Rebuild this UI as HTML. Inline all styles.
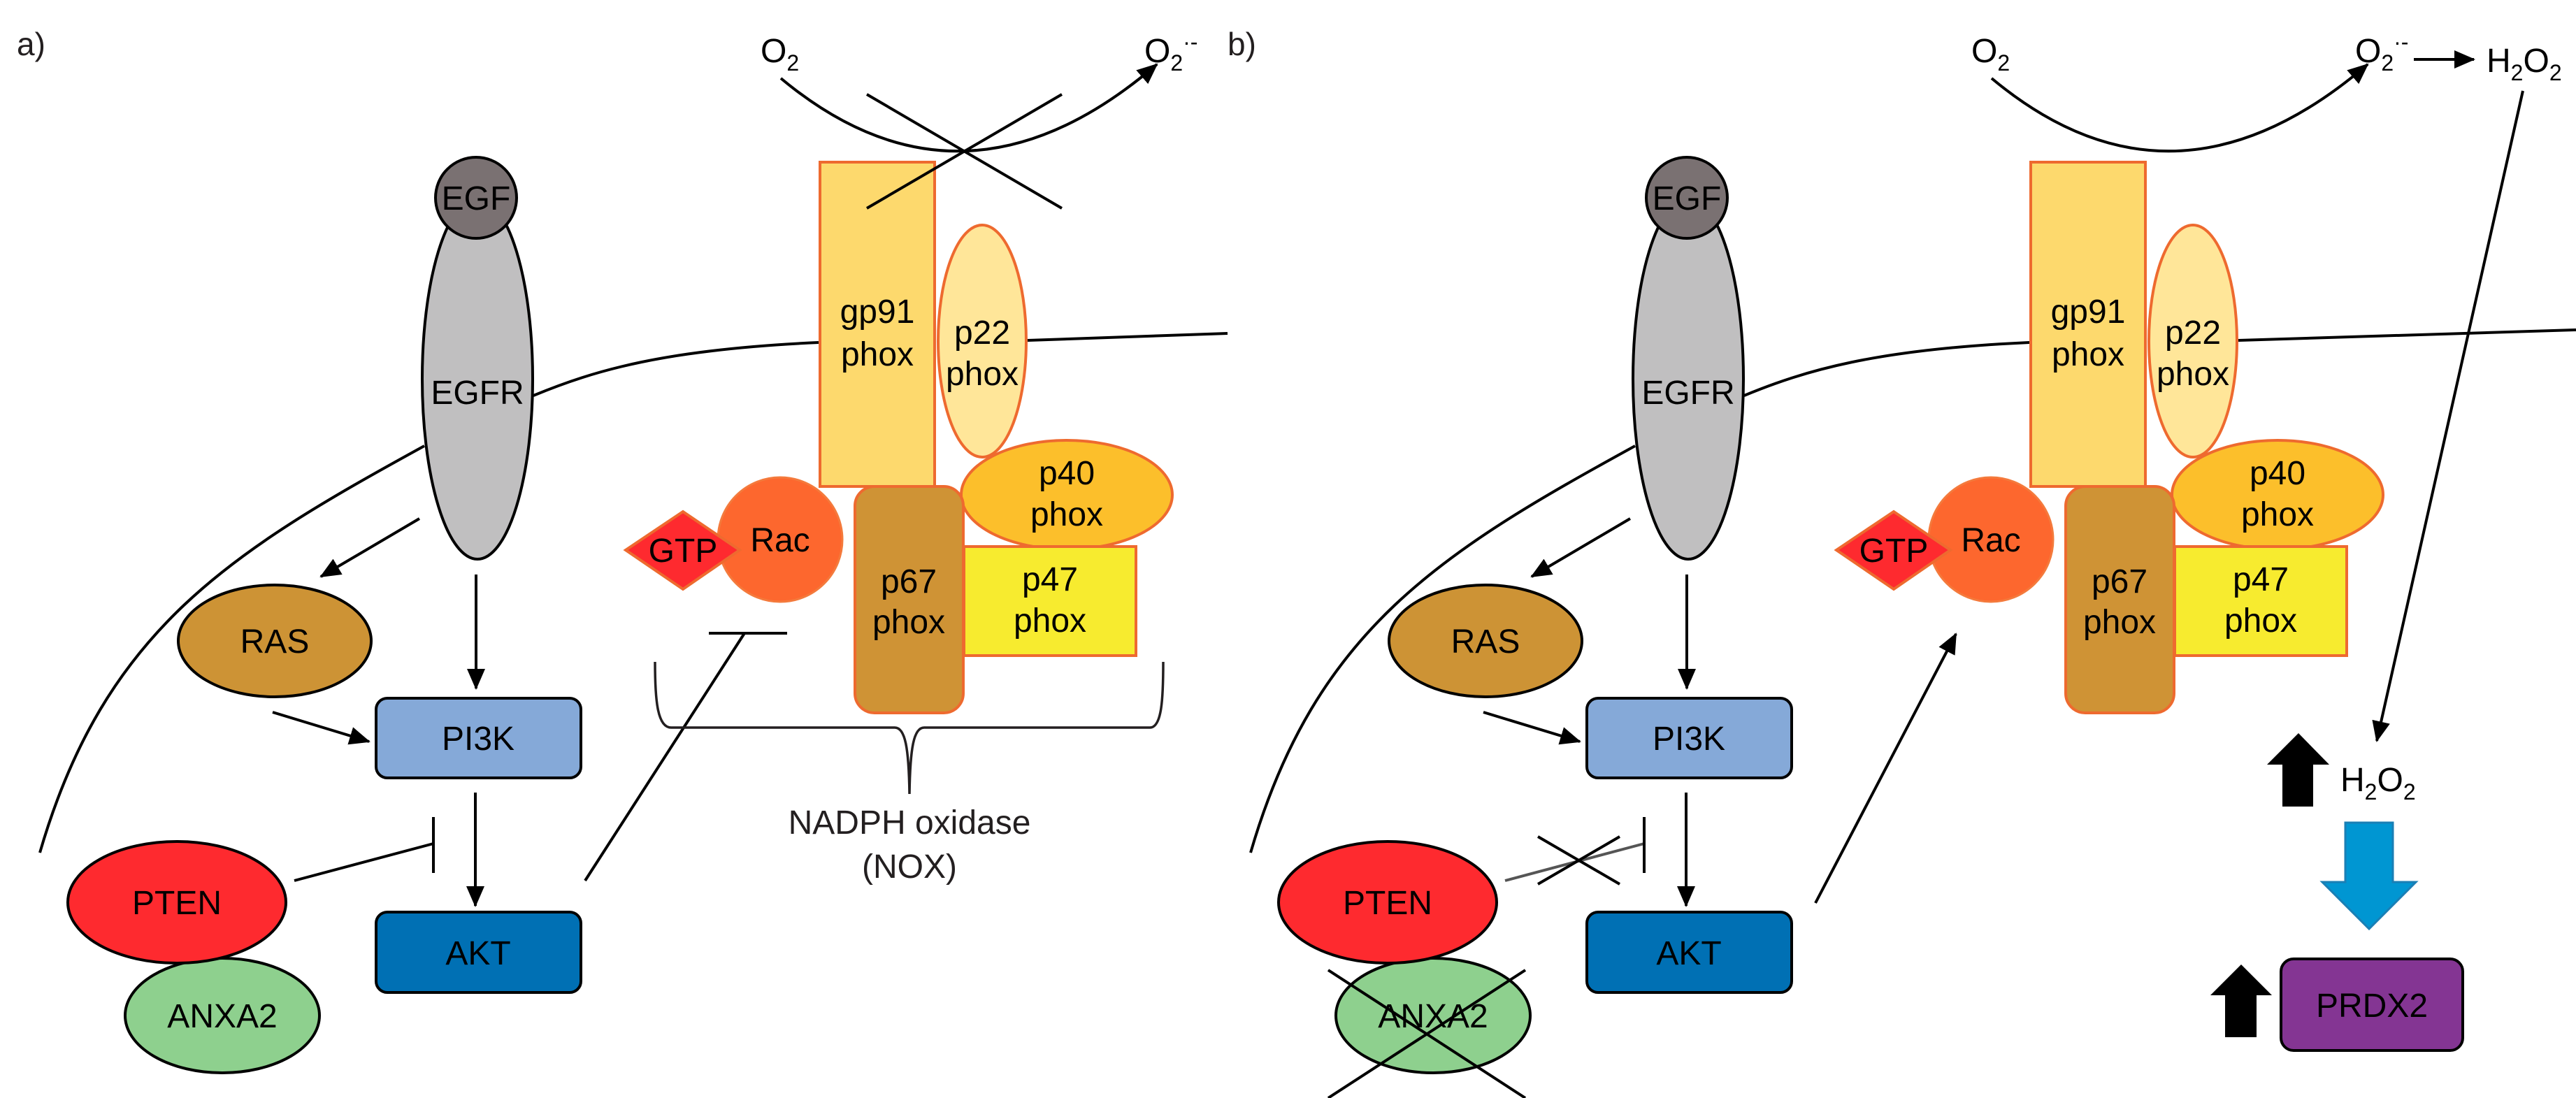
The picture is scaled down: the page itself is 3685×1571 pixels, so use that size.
<!DOCTYPE html>
<html><head><meta charset="utf-8"><style>
html,body{margin:0;padding:0;background:#fff;}
svg{display:block;}
text{font-family:"Liberation Sans",Arial,sans-serif;}
</style></head><body>
<svg width="3685" height="1571" viewBox="0 0 3685 1571" xmlns="http://www.w3.org/2000/svg">
<defs>
<marker id="ah" markerUnits="userSpaceOnUse" markerWidth="30" markerHeight="26" refX="28" refY="13" orient="auto">
<path d="M0,0 L30,13 L0,26 Z" fill="#000"/>
</marker>
<g id="common">
  <!-- membrane -->
  <path d="M57,1220 C150,900 330,790 607,638" fill="none" stroke="#000" stroke-width="4"/>
  <path d="M763,566 C850,530 950,500 1171,490" fill="none" stroke="#000" stroke-width="4"/>
  <!-- O2 arc -->
  <path d="M1117,112 Q1378,330 1655,92" fill="none" stroke="#000" stroke-width="4" marker-end="url(#ah)"/>
  <text x="1088" y="89" font-size="48">O<tspan font-size="32" dy="12">2</tspan></text>
  <text x="1637" y="89" font-size="48">O<tspan font-size="32" dy="12">2</tspan><tspan font-size="32" dy="-30">·-</tspan></text>
  <!-- EGFR -->
  <ellipse cx="683" cy="542" rx="79" ry="258" fill="#c0bfc0" stroke="#000" stroke-width="4"/>
  <circle cx="681" cy="283" r="58" fill="#7a7172" stroke="#000" stroke-width="4"/>
  <text x="681" y="300" font-size="48" text-anchor="middle">EGF</text>
  <text x="683" y="578" font-size="48" text-anchor="middle">EGFR</text>
  <!-- arrows -->
  <line x1="600" y1="742" x2="459" y2="825" stroke="#000" stroke-width="4" marker-end="url(#ah)"/>
  <line x1="681" y1="822" x2="681" y2="985" stroke="#000" stroke-width="4" marker-end="url(#ah)"/>
  <line x1="390" y1="1019" x2="528" y2="1061" stroke="#000" stroke-width="4" marker-end="url(#ah)"/>
  <line x1="680" y1="1134" x2="680" y2="1296" stroke="#000" stroke-width="4" marker-end="url(#ah)"/>
  <!-- RAS -->
  <ellipse cx="393" cy="917" rx="138" ry="80" fill="#cd9335" stroke="#000" stroke-width="4"/>
  <text x="393" y="934" font-size="48" text-anchor="middle">RAS</text>
  <!-- PI3K -->
  <rect x="538" y="999" width="293" height="114" rx="16" fill="#85a9d8" stroke="#000" stroke-width="4"/>
  <text x="684" y="1073" font-size="48" text-anchor="middle">PI3K</text>
  <!-- AKT -->
  <rect x="538" y="1305" width="293" height="115" rx="16" fill="#0070b4" stroke="#000" stroke-width="4"/>
  <text x="684" y="1380" font-size="48" text-anchor="middle">AKT</text>
  <!-- PTEN / ANXA2 -->
  <ellipse cx="318" cy="1453" rx="139" ry="82" fill="#8ed08e" stroke="#000" stroke-width="4"/>
  <text x="318" y="1470" font-size="48" text-anchor="middle">ANXA2</text>
  <ellipse cx="253" cy="1291" rx="156" ry="87" fill="#fe2a2f" stroke="#000" stroke-width="4"/>
  <text x="253" y="1308" font-size="48" text-anchor="middle">PTEN</text>
  <!-- NOX complex -->
  <rect x="1173" y="232" width="164" height="464" fill="#fdd96d" stroke="#ee6a2f" stroke-width="4"/>
  <text x="1255" y="462" font-size="48" text-anchor="middle">gp91</text>
  <text x="1255" y="523" font-size="48" text-anchor="middle">phox</text>
  <ellipse cx="1405" cy="488" rx="63" ry="166" fill="#ffe699" stroke="#ee6a2f" stroke-width="4"/>
  <text x="1405" y="492" font-size="48" text-anchor="middle">p22</text>
  <text x="1405" y="551" font-size="48" text-anchor="middle">phox</text>
  <ellipse cx="1526" cy="708" rx="151" ry="78" fill="#fcbf2b" stroke="#ee6a2f" stroke-width="4"/>
  <text x="1526" y="693" font-size="48" text-anchor="middle">p40</text>
  <text x="1526" y="752" font-size="48" text-anchor="middle">phox</text>
  <rect x="1379" y="782" width="246" height="156" fill="#f7eb2f" stroke="#ee6a2f" stroke-width="4"/>
  <text x="1502" y="845" font-size="48" text-anchor="middle">p47</text>
  <text x="1502" y="904" font-size="48" text-anchor="middle">phox</text>
  <rect x="1223" y="696" width="155" height="324" rx="28" fill="#cf9335" stroke="#ee6a2f" stroke-width="4"/>
  <text x="1300" y="848" font-size="48" text-anchor="middle">p67</text>
  <text x="1300" y="906" font-size="48" text-anchor="middle">phox</text>
  <circle cx="1116" cy="772" r="89" fill="#fd672e" stroke="#f47a3c" stroke-width="3"/>
  <text x="1116" y="789" font-size="48" text-anchor="middle">Rac</text>
  <polygon points="895,787 977,732 1058,787 977,843" fill="#fe2a2f" stroke="#ee6a2f" stroke-width="4"/>
  <text x="977" y="804" font-size="48" text-anchor="middle">GTP</text>
</g>
</defs>

<!-- Panel a -->
<text x="24" y="79" font-size="46" fill="#231f20">a)</text>
<use href="#common"/>
<path d="M1470,487 L1756,477" fill="none" stroke="#000" stroke-width="4"/>
<line x1="1240" y1="135" x2="1519" y2="298" stroke="#000" stroke-width="4"/>
<line x1="1519" y1="135" x2="1240" y2="298" stroke="#000" stroke-width="4"/>
<line x1="421" y1="1260" x2="620" y2="1207" stroke="#000" stroke-width="4"/>
<line x1="620" y1="1169" x2="620" y2="1249" stroke="#000" stroke-width="4"/>
<line x1="837" y1="1260" x2="1065" y2="906" stroke="#000" stroke-width="4"/>
<line x1="1014" y1="906" x2="1126" y2="906" stroke="#000" stroke-width="4"/>
<path d="M937,947 C937,1000 940,1041 960,1041 L1280,1041 C1295,1041 1300,1070 1301,1136 C1302,1070 1307,1041 1322,1041 L1645,1041 C1662,1041 1664,1000 1664,947" fill="none" stroke="#231f20" stroke-width="3.5"/>
<text x="1301" y="1193" font-size="48" text-anchor="middle" fill="#231f20">NADPH oxidase</text>
<text x="1301" y="1256" font-size="48" text-anchor="middle" fill="#231f20">(NOX)</text>

<!-- Panel b -->
<text x="1756" y="79" font-size="46" fill="#231f20">b)</text>
<g transform="translate(1732,0)">
  <use href="#common"/>
  <path d="M1470,487 L1953,472" fill="none" stroke="#000" stroke-width="4"/>
  <line x1="421" y1="1260" x2="620" y2="1207" stroke="#555" stroke-width="4"/>
  <line x1="620" y1="1169" x2="620" y2="1249" stroke="#000" stroke-width="4"/>
  <line x1="468" y1="1197" x2="585" y2="1265" stroke="#000" stroke-width="4"/>
  <line x1="468" y1="1265" x2="585" y2="1197" stroke="#000" stroke-width="4"/>
  <line x1="168" y1="1388" x2="450" y2="1571" stroke="#000" stroke-width="4"/>
  <line x1="450" y1="1388" x2="168" y2="1571" stroke="#000" stroke-width="4"/>
  <line x1="865" y1="1292" x2="1066" y2="907" stroke="#000" stroke-width="4" marker-end="url(#ah)"/>
</g>
<line x1="3453" y1="85" x2="3539" y2="85" stroke="#000" stroke-width="4" marker-end="url(#ah)"/>
<text x="3557" y="103" font-size="48">H<tspan font-size="32" dy="12">2</tspan><tspan dy="-12">O</tspan><tspan font-size="32" dy="12">2</tspan></text>
<line x1="3609" y1="130" x2="3400" y2="1060" stroke="#000" stroke-width="4" marker-end="url(#ah)"/>
<polygon points="3288,1049 3332,1094 3309,1094 3309,1154 3265,1154 3265,1094 3243,1094" fill="#000"/>
<text x="3348" y="1132" font-size="48">H<tspan font-size="32" dy="12">2</tspan><tspan dy="-12">O</tspan><tspan font-size="32" dy="12">2</tspan></text>
<polygon points="3355,1177 3423,1177 3423,1262 3456,1262 3389,1329 3322,1262 3355,1262" fill="#0096d2" stroke="#1a7fb5" stroke-width="3"/>
<polygon points="3206,1380 3250,1424 3228,1424 3228,1484 3183,1484 3183,1424 3162,1424" fill="#000"/>
<rect x="3263" y="1372" width="260" height="131" rx="18" fill="#843593" stroke="#000" stroke-width="4"/>
<text x="3393" y="1455" font-size="48" text-anchor="middle">PRDX2</text>
</svg>
</body></html>
